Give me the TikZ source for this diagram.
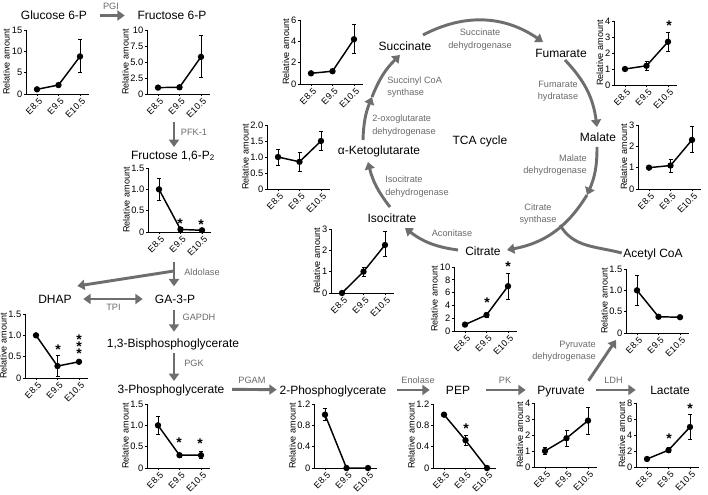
\documentclass[tikz,border=0pt]{standalone}
\usepackage{fontspec}
\setmainfont{Liberation Sans}
\usetikzlibrary{arrows.meta,calc}

\definecolor{flowgray}{HTML}{6E6E6E}
\definecolor{enzgray}{HTML}{6A6A6A}

% one small line chart: #1 axis x, #2 zero line y, #3 top value,
% #4 ticks, #5 x of the axis title, #6 points i/value/low/high
\newcommand{\relplot}[6]{%
  \begin{scope}[shift={(#1,#2)}]
    \pgfmathsetmacro{\yu}{64/#3}
    \draw[axis] (0,-64) -- (0,0) -- (63,0);
    \foreach \tk [count=\k] in {#4}
      \draw[axis] (0,-\tk*\yu) -- (-2,-\tk*\yu) node[ticklab] (yt\k) {\tk};
    \foreach \lab [count=\i] in {E8.5,E9.5,E10.5} {
      \pgfmathsetmacro{\px}{11+(\i-1)*21.5}
      \draw[axis] (\px,0) -- (\px,2);
      \node[xlab] (xt\i) at (\px+3.8,5.5) {\lab};
    }
    \node[ylab] (yl) at (#5,-32) {Relative amount};
    \foreach \i/\va/\vl/\vh in {#6} {
      \pgfmathsetmacro{\px}{11+(\i-1)*21.5}
      \coordinate (d\i) at (\px,-\va*\yu);
      \draw[errbar] (\px-2,-\vl*\yu) -- (\px+2,-\vl*\yu)
                    (\px,-\vl*\yu) -- (\px,-\vh*\yu)
                    (\px-2,-\vh*\yu) -- (\px+2,-\vh*\yu);
    }
    \draw[dataline] (d1) -- (d2) -- (d3);
    \foreach \i in {1,2,3} \fill (d\i) circle (2.4pt);
  \end{scope}}

\begin{document}
\begin{tikzpicture}[x=0.75pt,y=-0.75pt]

  \tikzstyle{met}=[inner sep=1pt,text height=6.6pt,text depth=0pt,font=\fontsize{9}{11}\selectfont]
  \tikzstyle{enz}=[text=enzgray,inner sep=0pt,align=center,font=\fontsize{6.9}{9.3}\selectfont]
  \tikzstyle{flow}=[draw=flowgray,line width=2.2pt,-{Triangle[length=5.5pt,width=7.5pt]}]
  \tikzstyle{both}=[draw=flowgray,line width=2.2pt,{Triangle[length=5.5pt,width=7.5pt]}-{Triangle[length=5.5pt,width=7.5pt]}]
  \tikzstyle{axis}=[line width=0.6pt]
  \tikzstyle{ticklab}=[anchor=east,inner sep=0pt,xshift=-1pt,font=\fontsize{7}{8}\selectfont]
  \tikzstyle{xlab}=[rotate=45,anchor=east,inner sep=0pt,font=\fontsize{6.8}{8}\selectfont]
  \tikzstyle{ylab}=[rotate=90,inner sep=0pt,font=\fontsize{6.8}{8}\selectfont]
  \tikzstyle{dataline}=[line width=1.1pt]
  \tikzstyle{errbar}=[line width=0.5pt]
  \tikzstyle{sig}=[anchor=base,inner sep=0pt,text height=3pt,font=\bfseries\fontsize{10.5}{10}\selectfont]

  \useasboundingbox (0,0) rectangle (708,495);

  \begin{scope}
    % glycolysis
    \node [met] (g6p) at (54,15.5) {Glucose 6-P};
    \node [met] (f6p) at (172,15.5) {Fructose 6-P};
    \node [met] (f16) at (173,155) {Fructose 1,6-P\textsubscript{2}};
    \node [met] (dhap) at (55,299) {DHAP};
    \node [met] (ga3p) at (175,299) {GA-3-P};
    \node [met] (bpg) at (173,343) {1,3-Bisphosphoglycerate};
    \node [met] (pg3) at (171,389) {3-Phosphoglycerate};
    \node [met] (pg2) at (333,390) {2-Phosphoglycerate};
    \node [met] (pep) at (458,390) {PEP};
    \node [met] (pyr) at (561,390) {Pyruvate};
    \node [met] (lac) at (670,390) {Lactate};

    \coordinate (pfk) at (174,122);
    \coordinate (ald) at (174,262);
    \coordinate (aldb) at (174,271);
    \coordinate (dhapin) at ($(dhap.north east)+(4,-7)$);
    \coordinate (pdh) at (616,340);

    \draw [flow,shorten <=8.8pt,shorten >=8.5pt] (g6p) -- (f6p);
    \draw [flow,shorten >=1.5pt] (pfk) -- (pfk |- f16.north);
    \draw [flow,shorten >=5pt] (ald) -- (ald |- ga3p.north);
    \draw [flow] (aldb) -- (dhapin);
    \draw [both,shorten <=7.5pt,shorten >=8pt] (dhap) -- (ga3p);
    \draw [flow,shorten <=4pt,shorten >=4pt] (ga3p.south -| ald) -- (ald |- bpg.north);
    \draw [flow,shorten <=3pt,shorten >=1.5pt] (bpg.south -| ald) -- (ald |- pg3.north);
    \draw [flow,shorten <=4.7pt,shorten >=1pt] (pg3) -- (pg2);
    \draw [flow,shorten <=7pt,shorten >=11pt] (pg2) -- (pep);
    \draw [flow,shorten <=11pt,shorten >=7.5pt] (pep) -- (pyr);
    \draw [flow,shorten <=7.5pt,shorten >=9.75pt] (pyr) -- (lac);
    \draw [flow,shorten <=3pt] (pyr.north east) -- (pdh);

    \node [enz] (pgi) at (111,6) {PGI};
    \node [enz] (pfk1) at (194,132) {PFK-1};
    \node [enz] (aldo) at (202,272) {Aldolase};
    \node [enz] (tpi) at (113.5,307) {TPI};
    \node [enz] (gapdh) at (199,317) {GAPDH};
    \node [enz] (pgk) at (194,363) {PGK};
    \node [enz] (pgam) at (252,380) {PGAM};
    \node [enz] (eno) at (418,380) {Enolase};
    \node [enz] (pk) at (505,380) {PK};
    \node [enz] (ldh) at (613.5,380) {LDH};
    \node [enz,anchor=east,align=right] (pdhe) at (596,351) {Pyruvate\\dehydrogenase};
  \end{scope}

  \begin{scope}
    % TCA cycle
    \node [met] (tca) at (480,140) {TCA cycle};
    \node [met] (succ) at (405,46) {Succinate};
    \node [met] (fum) at (561,53) {Fumarate};
    \node [met] (mal) at (598,137) {Malate};
    \node [met] (cit) at (483,251) {Citrate};
    \node [met] (iso) at (392,218) {Isocitrate};
    \node [met] (akg) at (379,150) {α-Ketoglutarate};
    \node [met] (acoa) at (653,253) {Acetyl CoA};

    \coordinate (sd1) at (423,35);
    \coordinate (sd2) at (543,42);
    \coordinate (fh1) at (565,60);
    \coordinate (fh2) at (597,127);
    \coordinate (md1) at (597,147);
    \coordinate (oaa) at (587,195);
    \coordinate (cs2) at (507,250);
    \coordinate (csj) at (560,225);
    \coordinate (ac1) at (458,250);
    \coordinate (ac2) at (405,228);
    \coordinate (id1) at (390,207);
    \coordinate (id2) at (368,162);
    \coordinate (og1) at (363,140);
    \coordinate (sca) at (372,97);
    \coordinate (sc2) at (400,55);

    \draw [flow] (sd1) to[bend left=31] (sd2);
    \draw [flow] (fh1) to[bend left=18] (fh2);
    \draw [flow] (md1) to[bend left=12] (oaa);
    \draw [flow] (oaa) to[bend left=24] (cs2);
    \draw [flow,-] (csj) to[out=-60,in=165] (acoa.west);
    \draw [flow] (ac1) to[bend left=15] (ac2);
    \draw [flow] (id1) to[bend left=12] (id2);
    \draw [flow] (og1) to[bend left=10] (sca);
    \draw [flow] (sca) to[bend left=12] (sc2);

    \node [enz] (sdh) at (480,39.5) {Succinate\\dehydrogenase};
    \node [enz] (fh) at (558,91) {Fumarate\\hydratase};
    \node [enz,anchor=east,align=right] (mdh) at (587,165) {Malate\\dehydrogenase};
    \node [enz] (cs) at (538,214) {Citrate\\synthase};
    \node [enz] (aco) at (452,233) {Aconitase};
    \node [enz,anchor=west,align=left] (idh) at (385,186.5) {Isocitrate\\dehydrogenase};
    \node [enz,anchor=west,align=left] (ogdh) at (372,125.5) {2-oxoglutarate\\dehydrogenase};
    \node [enz,anchor=west,align=left] (scs) at (387,87) {Succinyl CoA\\synthase};
  \end{scope}

  % charts
  \relplot{26}{94}{15}{0,5,10,15}{-19.5}{1/1.1/1.1/1.1,2/2.1/2.1/2.1,3/8.8/5.0/12.7}
  \relplot{147}{94}{10}{0,2.5,5.0,7.5,10}{-21.5}{1/1.0/1.0/1.0,2/1.05/1.05/1.05,3/5.8/2.6/9.1}
  \relplot{148}{232}{1.5}{0,0.5,1.0,1.5}{-21.5}{1/1.0/0.75/1.25,2/0.06/0.06/0.06,3/0.04/0.04/0.04}
  \relplot{25}{378}{1.5}{0,0.5,1.0,1.5}{-21.5}{1/1.0/0.95/1.05,2/0.28/0.05/0.52,3/0.38/0.35/0.41}
  \relplot{147}{468}{1.5}{0,0.5,1.0,1.5}{-21.5}{1/1.0/0.8/1.2,2/0.3/0.26/0.34,3/0.3/0.22/0.4}
  \relplot{314}{468}{1.2}{0,0.4,0.8,1.2}{-21.5}{1/1.0/0.9/1.12,2/0/0/0,3/0/0/0}
  \relplot{433}{468}{1.2}{0,0.4,0.8,1.2}{-21.5}{1/1.0/1.0/1.0,2/0.52/0.42/0.62,3/0/0/0}
  \relplot{534}{467}{4}{0,1,2,3,4}{-14}{1/1.0/0.8/1.2,2/1.8/1.3/2.3,3/2.9/2.05/3.75}
  \relplot{636}{467}{8}{0,2,4,6,8}{-14}{1/1.0/1.0/1.0,2/2.1/1.8/2.4,3/5.0/3.5/6.6}
  \relplot{626}{333}{1.5}{0,0.5,1.0,1.5}{-21.5}{1/1.0/0.65/1.35,2/0.38/0.38/0.38,3/0.37/0.37/0.37}
  \relplot{454}{331}{10}{0,2,4,6,8,10}{-19.5}{1/1.0/1.0/1.0,2/2.5/2.2/2.8,3/7.0/5.0/9.0}
  \relplot{331}{293}{3}{0,1,2,3}{-14}{1/0/0/0,2/1.0/0.8/1.2,3/2.25/1.7/2.9}
  \relplot{267}{189}{2.0}{0,0.5,1.0,1.5,2.0}{-21.5}{1/1.0/0.75/1.25,2/0.85/0.55/1.15,3/1.5/1.2/1.8}
  \relplot{300}{84}{6}{0,2,4,6}{-14}{1/1.0/1.0/1.0,2/1.2/1.2/1.2,3/4.2/2.85/5.6}
  \relplot{614}{85}{4}{0,1,2,3,4}{-14}{1/1.0/1.0/1.0,2/1.2/0.9/1.5,3/2.7/2.1/3.3}
  \relplot{638}{189}{3}{0,1,2,3}{-14}{1/1.0/1.0/1.0,2/1.1/0.8/1.4,3/2.3/1.7/2.95}

  % significance marks
  \node [sig] (s1) at (180,228.4) {*};
  \node [sig] (s2) at (201,229.4) {*};
  \node [sig] (s3) at (58,354.4) {*};
  \node [sig] (s4) at (79,344.4) {*};
  \node [sig] (s5) at (79,351.6) {*};
  \node [sig] (s6) at (79,358.8) {*};
  \node [sig] (s7) at (179,447.4) {*};
  \node [sig] (s8) at (200,448.4) {*};
  \node [sig] (s9) at (487,307.4) {*};
  \node [sig] (s10) at (508,271.4) {*};
  \node [sig] (s11) at (466,433.4) {*};
  \node [sig] (s12) at (669,443.4) {*};
  \node [sig] (s13) at (690,413.4) {*};
  \node [sig] (s14) at (669,30.4) {*};

\end{tikzpicture}
\end{document}
